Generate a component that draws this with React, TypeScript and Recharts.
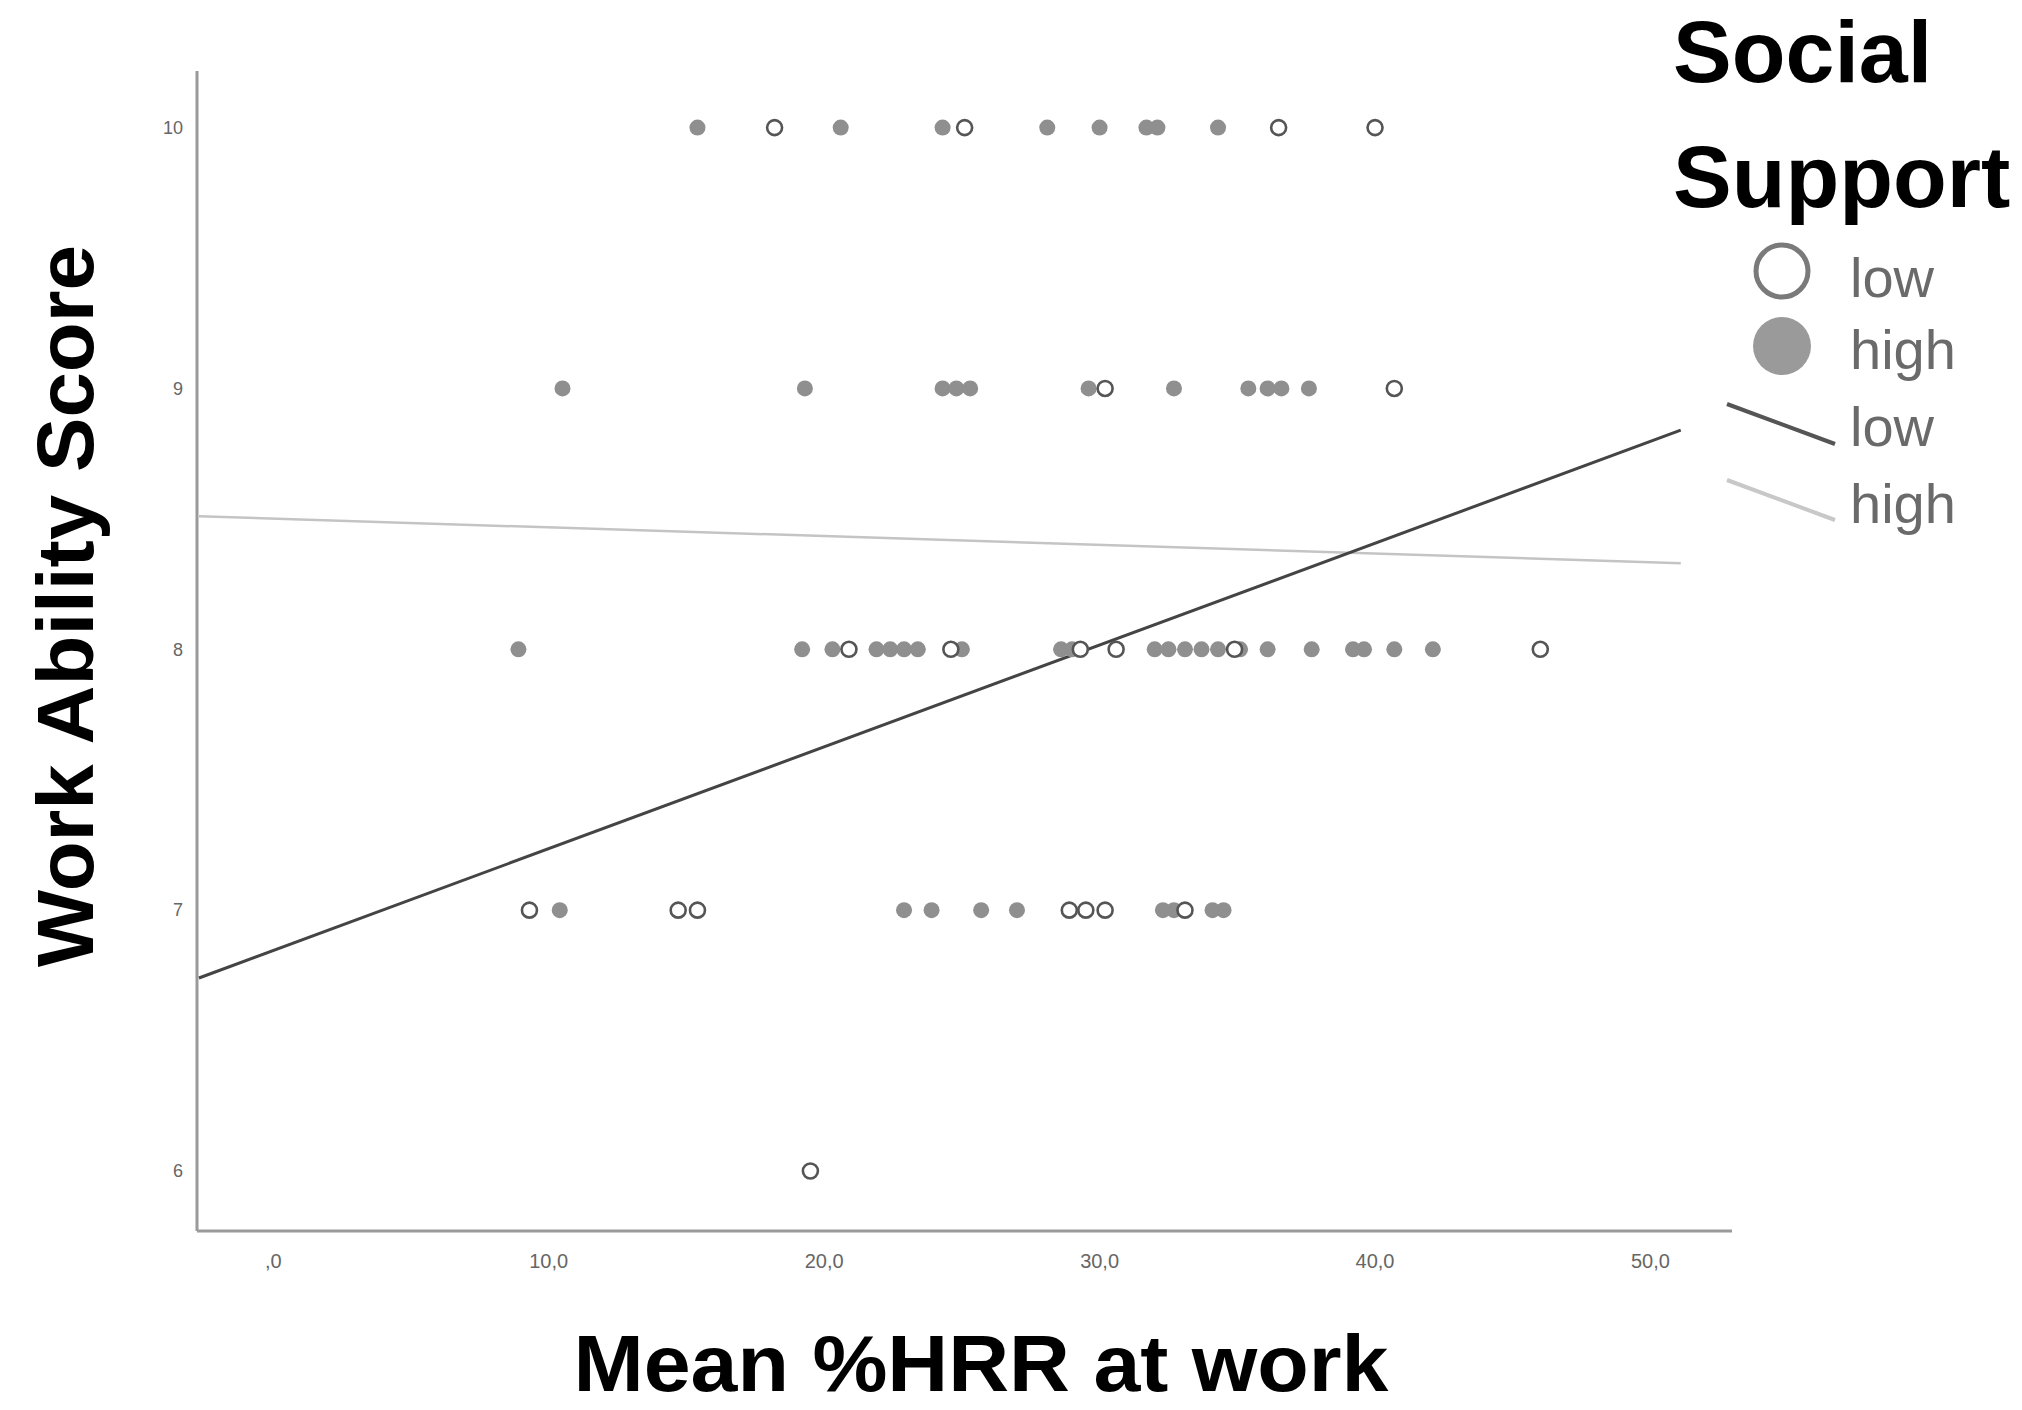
import React from 'react'
import { ScatterChart, Scatter, XAxis, YAxis } from 'recharts'

// Mean %HRR at work per Work Ability Score row, split by social support group
const lowRow10 = [18.2, 25.1, 36.5, 40.0]
const lowRow9 = [30.2, 40.7]
const lowRow8 = [20.9, 24.6, 29.3, 30.6, 34.9, 46.0]
const lowRow7 = [9.3, 14.7, 15.4, 28.9, 29.5, 30.2, 33.1]
const lowRow6 = [19.5]

const highRow10 = [15.4, 20.6, 24.3, 28.1, 30.0, 31.7, 32.1, 34.3]
const highRow9 = [10.5, 19.3, 24.3, 24.8, 25.3, 29.6, 32.7, 35.4, 36.1, 36.6, 37.6]
const highRow8 = [8.9, 19.2, 20.3, 21.9, 22.4, 22.9, 23.4, 25.0, 28.6, 29.0, 32.0, 32.5, 33.1, 33.7, 34.3, 35.1, 36.1, 37.7, 39.2, 39.6, 40.7, 42.1]
const highRow7 = [10.4, 22.9, 23.9, 25.7, 27.0, 32.3, 32.7, 34.1, 34.5]

// fitted lines (endpoints)
const lowFit = [{ x: -2.7, y: 6.74 }, { x: 51.1, y: 8.84 }]
const highFit = [{ x: -2.7, y: 8.51 }, { x: 51.1, y: 8.33 }]

const xTicks = [0, 10, 20, 30, 40, 50]
const yTicks = [6, 7, 8, 9, 10]

const toPoints = (rows: [number, number[]][]) =>
  rows.flatMap(([score, vals]) => vals.map((v) => ({ x: v, y: score })))

const lowPoints = toPoints([[10, lowRow10], [9, lowRow9], [8, lowRow8], [7, lowRow7], [6, lowRow6]])
const highPoints = toPoints([[10, highRow10], [9, highRow9], [8, highRow8], [7, highRow7]])

const fmtX = (v: number) => (v === 0 ? ',0' : v.toFixed(1).replace('.', ','))

const OpenDot = (p: any) => (
  <circle cx={p.cx} cy={p.cy} r={7.5} fill="#fff" stroke="#555" strokeWidth={2.6} />
)
const FilledDot = (p: any) => <circle cx={p.cx} cy={p.cy} r={8} fill="#8f8f8f" />
const NoDot = () => <g />

const font = 'Liberation Sans, Arial, sans-serif'

const XTick = (p: any) => (
  <text x={p.x} y={p.y} dy="0.71em" textAnchor="middle" fontSize={20} fill="#666" fontFamily={font}>
    {fmtX(p.payload.value)}
  </text>
)
const YTick = (p: any) => (
  <text x={p.x} y={p.y} dy="0.35em" textAnchor="end" fontSize={18} fill="#666" fontFamily={font}>
    {p.payload.value}
  </text>
)

export default function App() {
  return (
    <div style={{ position: 'absolute', left: 0, top: 0, width: 2022, height: 1410, background: '#fff' }}>
      <ScatterChart width={2022} height={1410} margin={{ top: 71, right: 290, bottom: 0, left: 0 }}>
        <XAxis
          type="number"
          dataKey="x"
          domain={[-2.77, 52.96]}
          ticks={xTicks}
          allowDataOverflow
          height={179}
          tickLine={false}
          tickSize={0}
          tickMargin={23}
          tick={<XTick />}
          axisLine={{ stroke: '#9a9a9a', strokeWidth: 3 }}
        />
        <YAxis
          type="number"
          dataKey="y"
          domain={[5.77, 10.217]}
          ticks={yTicks}
          allowDataOverflow
          width={197}
          tickLine={false}
          tickSize={0}
          tickMargin={14}
          tick={<YTick />}
          axisLine={{ stroke: '#9a9a9a', strokeWidth: 3 }}
        />
        <Scatter data={highFit} line={{ stroke: '#c4c4c4', strokeWidth: 2.5 }} shape={<NoDot />} isAnimationActive={false} />
        <Scatter data={lowFit} line={{ stroke: '#444', strokeWidth: 3 }} shape={<NoDot />} isAnimationActive={false} />
        <Scatter data={highPoints} shape={<FilledDot />} isAnimationActive={false} />
        <Scatter data={lowPoints} shape={<OpenDot />} isAnimationActive={false} />
      </ScatterChart>

      <svg width={2022} height={1410} style={{ position: 'absolute', left: 0, top: 0, pointerEvents: 'none' }}>
        <text transform="translate(93,606) rotate(-90)" textAnchor="middle" fontSize={80} fontWeight="bold" fontFamily={font} fill="#000" textLength={722} lengthAdjust="spacingAndGlyphs">
          Work Ability Score
        </text>
        <text x={981} y={1391} textAnchor="middle" fontSize={80} fontWeight="bold" fontFamily={font} fill="#000" textLength={815} lengthAdjust="spacingAndGlyphs">
          Mean %HRR at work
        </text>

        <text x={1673} y={82} fontSize={88} fontWeight="bold" fontFamily={font} fill="#000">Social</text>
        <text x={1673} y={207} fontSize={88} fontWeight="bold" fontFamily={font} fill="#000">Support</text>

        <circle cx={1782} cy={271} r={26} fill="#fff" stroke="#7a7a7a" strokeWidth={5} />
        <text x={1850} y={297} fontSize={56} fontFamily={font} fill="#6a6a6a">low</text>
        <circle cx={1782} cy={346} r={29} fill="#9a9a9a" />
        <text x={1850} y={369} fontSize={56} fontFamily={font} fill="#6a6a6a">high</text>
        <line x1={1727} y1={404} x2={1835} y2={444} stroke="#555" strokeWidth={4} />
        <text x={1850} y={446} fontSize={56} fontFamily={font} fill="#6a6a6a">low</text>
        <line x1={1727} y1={480} x2={1835} y2={520} stroke="#c8c8c8" strokeWidth={4} />
        <text x={1850} y={523} fontSize={56} fontFamily={font} fill="#6a6a6a">high</text>
      </svg>
    </div>
  )
}
